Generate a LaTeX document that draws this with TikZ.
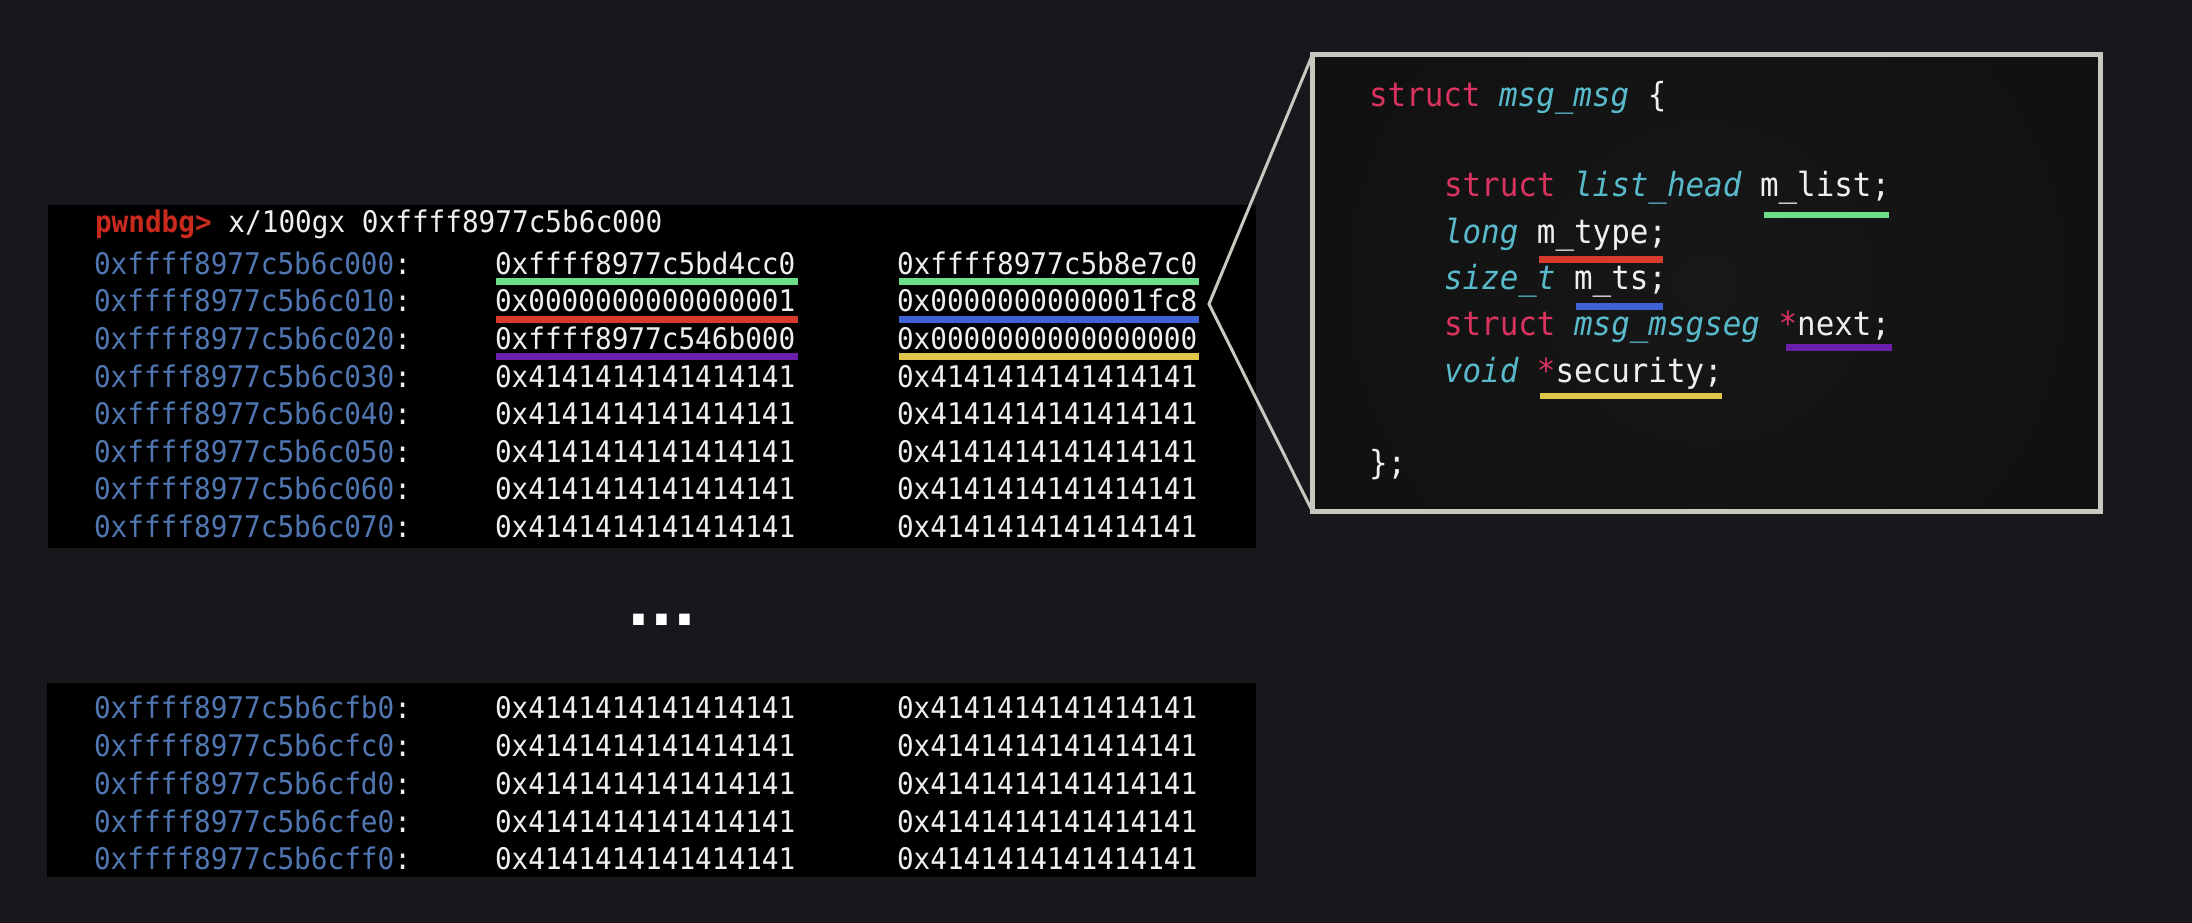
\documentclass[tikz,border=0pt]{standalone}
\usepackage{fontspec}
\newfontfamily\dbgfont[FakeStretch=0.93,BoldFont={DejaVu Sans Mono Bold},ItalicFont={DejaVu Sans Mono Oblique}]{DejaVu Sans Mono}
\newfontfamily\dotsfont[BoldFont={DejaVu Sans Bold}]{DejaVu Sans}
\definecolor{bg}{HTML}{17181C}
\definecolor{addr}{HTML}{5077B2}
\definecolor{val}{HTML}{EFEFEF}
\definecolor{prompt}{HTML}{C82A1E}
\definecolor{kw}{HTML}{D9335F}
\definecolor{ty}{HTML}{59BACB}
\definecolor{frame}{HTML}{C8C8C0}
\definecolor{boxfill}{HTML}{111111}
\definecolor{boxglow}{HTML}{171717}
\definecolor{ugreen}{HTML}{6CDE8A}
\definecolor{ured}{HTML}{D63B2D}
\definecolor{ublue}{HTML}{3F62D6}
\definecolor{upurple}{HTML}{6C1FAC}
\definecolor{uyellow}{HTML}{DFC54A}
\begin{document}
\begin{tikzpicture}[x=0.5pt,y=-0.5pt,
  dbg/.style={font={\dbgfont\fontsize{14.9pt}{18pt}\selectfont}, inner sep=0pt, outer sep=0pt, anchor=base west, text=val},
  code/.style={font={\dbgfont\fontsize{16.6pt}{20pt}\selectfont}, inner sep=0pt, outer sep=0pt, anchor=base west, text=val},
  ul/.style={line width=3.5pt},
  cul/.style={line width=3.25pt},
  conn/.style={draw=frame, line width=1.5pt}]
\useasboundingbox (0,0) rectangle (2192,922);
\fill[bg] (-20,-20) rectangle (2212,942);
% panels
\fill[black] (48,205) rectangle (1256,548);
\fill[black] (47,683) rectangle (1256,877);
% prompt
\node[dbg] (prompt) at (95,232) {\textcolor{prompt}{\bfseries pwndbg>} x/100gx 0xffff8977c5b6c000};
% top rows
\foreach \i/\a/\l/\r in {0/c000/ffff8977c5bd4cc0/ffff8977c5b8e7c0,
  1/c010/0000000000000001/0000000000001fc8,
  2/c020/ffff8977c546b000/0000000000000000,
  3/c030/4141414141414141/4141414141414141,
  4/c040/4141414141414141/4141414141414141,
  5/c050/4141414141414141/4141414141414141,
  6/c060/4141414141414141/4141414141414141,
  7/c070/4141414141414141/4141414141414141}{
  \node[dbg] (a\i) at (94,{274.2+37.6*\i}) {\textcolor{addr}{0xffff8977c5b6\a}:};
  \node[dbg] (l\i) at (495,{274.2+37.6*\i}) {0x\l};
  \node[dbg] (r\i) at (897,{274.2+37.6*\i}) {0x\r};
}
% bottom rows
\foreach \i/\a in {0/cfb0,1/cfc0,2/cfd0,3/cfe0,4/cff0}{
  \node[dbg] (ba\i) at (94,{718.3+37.9*\i}) {\textcolor{addr}{0xffff8977c5b6\a}:};
  \node[dbg] (bl\i) at (495,{718.3+37.9*\i}) {0x4141414141414141};
  \node[dbg] (br\i) at (897,{718.3+37.9*\i}) {0x4141414141414141};
}
% underlines in dump
\draw[ul, ugreen] (496,281.7) -- (798,281.7);
\draw[ul, ugreen] (899,281.7) -- (1199,281.7);
\draw[ul, ured] (496,319) -- (798,319);
\draw[ul, ublue] (899,319) -- (1199,319);
\draw[ul, upurple] (496,356.7) -- (798,356.7);
\draw[ul, uyellow] (899,356.7) -- (1199,356.7);
% ellipsis
\node[font={\dotsfont\bfseries\fontsize{30pt}{30pt}\selectfont}, text=white, inner sep=0pt, anchor=base west] (dots) at (627,625) {...};
% struct box
\node[draw=frame, fill=boxfill, line width=2.5pt, minimum width=394pt, minimum height=228.5pt, inner sep=0pt, outer sep=0pt,
  path picture={\shade[inner color=boxglow, outer color=boxfill] (path picture bounding box.center) circle (190pt);}] (msgbox) at (1706.5,283) {};
\coordinate (apex) at (1209,304);
\draw[conn] (msgbox.north west) -- (apex) -- (msgbox.south west);
% code
\node[code] (c0) at (1369,106.7) {\textcolor{kw}{struct} {\itshape\color{ty}msg\_msg} \{};
\node[code] (c1) at (1444,196.7) {\textcolor{kw}{struct} {\itshape\color{ty}list\_head} m\_list;};
\node[code] (c2) at (1444,243.1) {{\itshape\color{ty}long} m\_type;};
\node[code] (c3) at (1444,289.5) {{\itshape\color{ty}size\_t} m\_ts;};
\node[code] (c4) at (1444,335.9) {\textcolor{kw}{struct} {\itshape\color{ty}msg\_msgseg} \textcolor{kw}{*}next;};
\node[code] (c5) at (1444,382.3) {{\itshape\color{ty}void} \textcolor{kw}{*}security;};
\node[code] (c6) at (1369,474) {\};};
% code underlines
\draw[cul, ugreen] (1764,215) -- (1889,215);
\draw[cul, ured] (1539,259.5) -- (1663,259.5);
\draw[cul, ublue] (1576,306.5) -- (1663,306.5);
\draw[cul, upurple] (1786,347.7) -- (1892,347.7);
\draw[cul, uyellow] (1540,396) -- (1722,396);
\end{tikzpicture}
\end{document}
